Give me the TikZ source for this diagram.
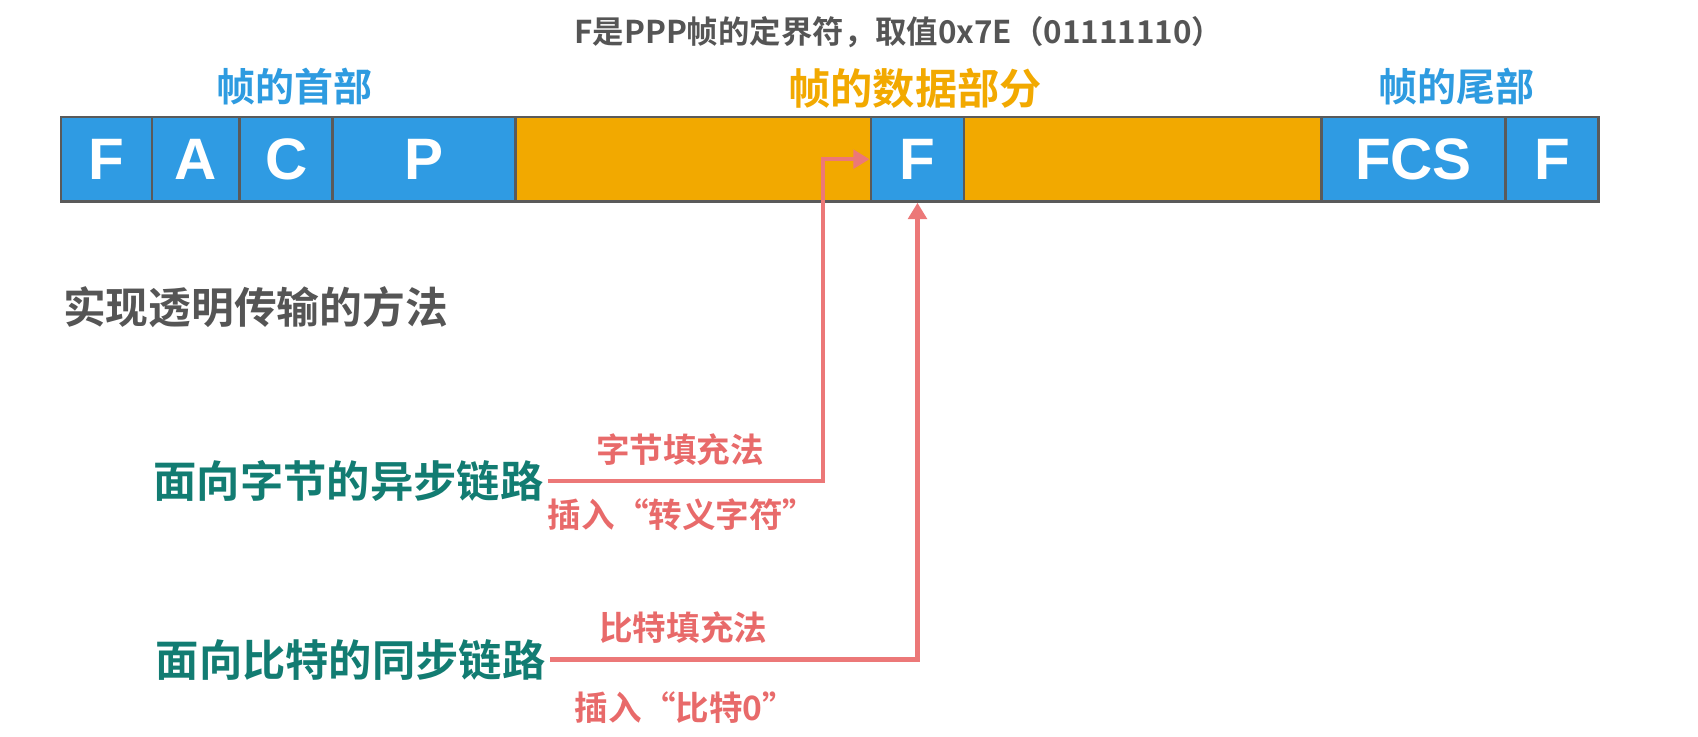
\documentclass[tikz,border=0pt]{standalone}
\usepackage{fontspec}
\newfontfamily\cjk{Noto Sans CJK SC Bold}
\newfontfamily\latb{Liberation Sans Bold}
\usetikzlibrary{arrows.meta}
\definecolor{cblue}{HTML}{2F9BE3}
\definecolor{corange}{HTML}{F2A900}
\definecolor{cborder}{HTML}{5A5A5A}
\definecolor{cgray}{HTML}{555555}
\definecolor{cteal}{HTML}{127C72}
\definecolor{cred}{HTML}{EC7878}
\definecolor{credtext}{HTML}{E86A6A}
\definecolor{cbluetext}{HTML}{2E9BE0}
\definecolor{corangetext}{HTML}{F2A900}
\newcommand{\fsz}[1]{\fontsize{#1}{#1}\selectfont}
\tikzset{
  cell/.style={draw=cborder, line width=2.5pt, inner sep=0pt, minimum height=78pt, anchor=west, text=white, font=\latb\fsz{54}},
  bluecell/.style={cell, fill=cblue},
  orangecell/.style={cell, fill=corange},
  toptext/.style={inner sep=0pt, text=cgray, font=\cjk\fsz{29}},
  parttext/.style={inner sep=0pt, font=\cjk\fsz{36}},
  linktext/.style={inner sep=0pt, inner xsep=4pt, text=cteal, font=\cjk\fsz{40}, anchor=east},
  methodtext/.style={inner sep=0pt, text=credtext, font=\cjk\fsz{31}},
  redarr/.style={draw=cred, line width=4pt, -{Triangle[length=15pt,width=17pt]}},
}
\begin{document}
\begin{tikzpicture}[x=1pt,y=-1pt]
\useasboundingbox (0,0) rectangle (1568,680);
% frame cells
\node[orangecell, minimum width=328pt] (d1) at (475,147) {};
\node[orangecell, minimum width=330pt] (d2) at (889,147) {};
\node[bluecell, minimum width=84pt] (f1) at (55,147) {F};
\node[bluecell, minimum width=81pt] (a) at (139,147) {A};
\node[bluecell, minimum width=86pt] (c) at (220,147) {C};
\node[bluecell, minimum width=169pt] (p) at (306,147) {P};
\node[bluecell, minimum width=86pt] (fmid) at (803,147) {F};
\node[bluecell, minimum width=170pt] (fcs) at (1219,147) {FCS};
\node[bluecell, minimum width=86pt] (f2) at (1389,147) {F};
% labels above
\node[toptext] (top) at (830,30) {F是PPP帧的定界符，取值0x7E（01111110）};
\node[parttext, text=cbluetext] (head) at (272,80) {帧的首部};
\node[parttext, text=corangetext, font=\cjk\fsz{39}] (data) at (845,82) {帧的数据部分};
\node[parttext, text=cbluetext] (tail) at (1345,80) {帧的尾部};
% method title
\node[inner sep=0pt, text=cgray, font=\cjk\fsz{39.5}, anchor=west] (title) at (58,284) {实现透明传输的方法};
% links
\node[linktext] (bytel) at (506,444) {面向字节的异步链路};
\node[linktext] (bitl) at (508,609) {面向比特的同步链路};
\coordinate (k1) at (760,444);
\draw[redarr] (bytel.east) -- (k1) |- (fmid.west);
\draw[redarr] (bitl.east) -| (fmid.south);
% method labels
\node[methodtext] (m1) at (628,415) {字节填充法};
\node[methodtext] (m2) at (630,475) {插入“转义字符”};
\node[methodtext] (m3) at (631,580) {比特填充法};
\node[methodtext] (m4) at (633,653) {插入“比特0”};
\end{tikzpicture}
\end{document}
